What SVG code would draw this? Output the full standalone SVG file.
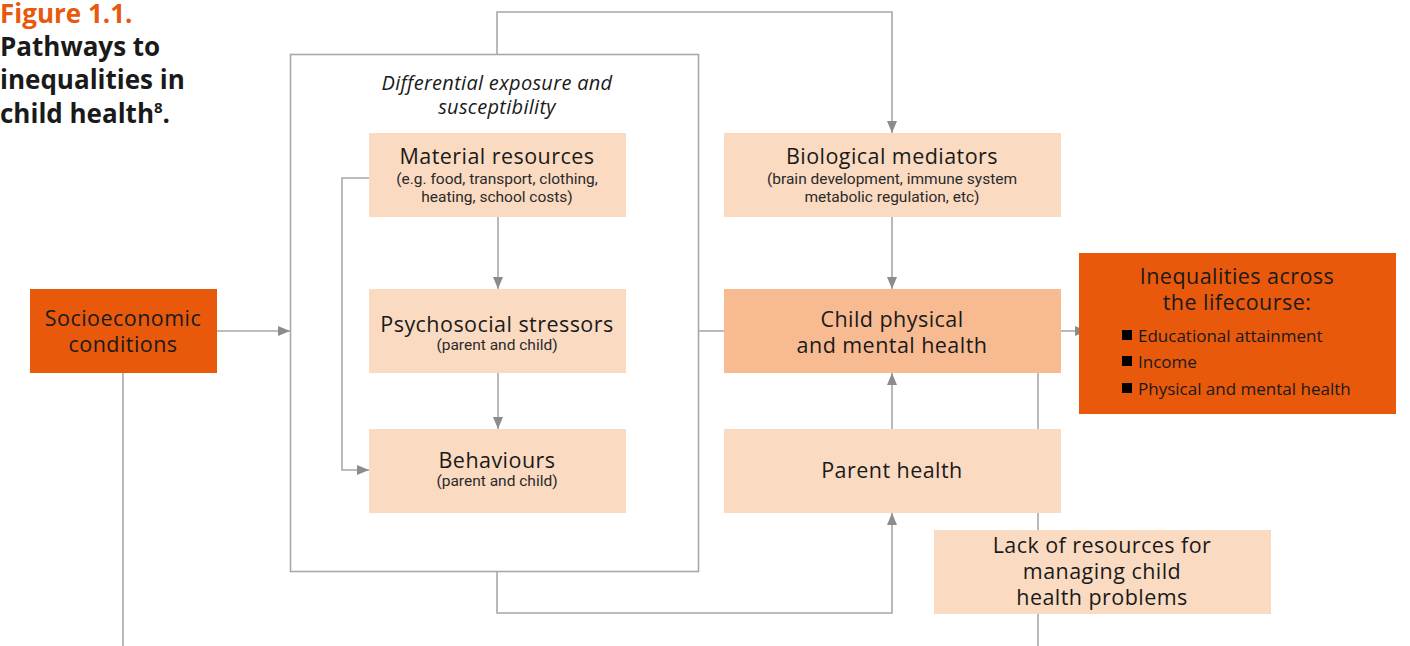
<svg xmlns="http://www.w3.org/2000/svg" width="1410" height="646" viewBox="0 0 1410 646">
<defs>
<marker id="ah" markerWidth="12" markerHeight="10" refX="12" refY="5" orient="auto" markerUnits="userSpaceOnUse">
<path d="M0,0 L12,5 L0,10 Z" fill="#8c8c8c"/>
</marker>
<style>
.ln{fill:none;stroke:#a8a8a8;stroke-width:1.6}
.lt{fill:#fbdac2}
.md{fill:#f7ba91}
.dk{fill:#e8590c}
.t{font-family:"Open Sans",Lato,sans-serif;fill:#1a1a1a;text-anchor:middle}
.big{font-size:21.5px;letter-spacing:0.45px}
.it{font-size:20px;font-style:italic;letter-spacing:0.3px}
.sm{font-family:Roboto,"Liberation Sans",sans-serif;font-size:15.5px;fill:#2a2a2a;text-anchor:middle}
.bl{font-family:"Open Sans",Lato,sans-serif;font-size:17px;fill:#1a1a1a}
.ti{font-family:"Open Sans",Lato,sans-serif;font-weight:bold;font-size:26px;fill:#1a1a1a}
</style>
</defs>
<rect width="1410" height="646" fill="#fff"/>
<g id="title">
<text class="ti" x="0" y="23" style="fill:#e8590c">Figure 1.1.</text>
<text class="ti" x="0" y="56">Pathways to</text>
<text class="ti" x="0" y="89">inequalities in</text>
<text class="ti" x="0" y="123">child health<tspan font-size="15" dy="-10">8</tspan><tspan dy="10">.</tspan></text>
</g>
<g id="connectors">
<path class="ln" d="M123,373 V646"/>
<path class="ln" d="M1038,373 V646"/>
<path class="ln" d="M217,331 H290" marker-end="url(#ah)"/>
<path class="ln" d="M497,54 V12 H892 V133" marker-end="url(#ah)"/>
<path class="ln" d="M498,217 V289" marker-end="url(#ah)"/>
<path class="ln" d="M498,373 V429" marker-end="url(#ah)"/>
<path class="ln" d="M369,178 H342 V470 H369" marker-end="url(#ah)"/>
<path class="ln" d="M699,331 H724"/>
<path class="ln" d="M892,217 V289" marker-end="url(#ah)"/>
<path class="ln" d="M892,429 V373" marker-end="url(#ah)"/>
<path class="ln" d="M1061,331 H1087" marker-end="url(#ah)"/>
<path class="ln" d="M497,572 V613 H892 V513" marker-end="url(#ah)"/>
</g>
<g id="exposure-box">
<rect x="290.5" y="54.5" width="408" height="517" fill="none" stroke="#a8a8a8" stroke-width="1.6"/>
<text class="t it" x="497" y="90">Differential exposure and</text>
<text class="t it" x="497" y="114">susceptibility</text>
</g>
<g id="material">
<rect class="lt" x="369" y="133" width="257" height="84"/>
<text class="t big" x="497" y="164">Material resources</text>
<text class="sm" x="497" y="184">(e.g. food, transport, clothing,</text>
<text class="sm" x="497" y="202">heating, school costs)</text>
</g>
<g id="psychosocial">
<rect class="lt" x="369" y="289" width="257" height="84"/>
<text class="t big" x="497" y="332">Psychosocial stressors</text>
<text class="sm" x="497" y="350">(parent and child)</text>
</g>
<g id="behaviours">
<rect class="lt" x="369" y="429" width="257" height="84"/>
<text class="t big" x="497" y="468">Behaviours</text>
<text class="sm" x="497" y="486">(parent and child)</text>
</g>
<g id="biological">
<rect class="lt" x="724" y="133" width="337" height="84"/>
<text class="t big" x="892" y="164">Biological mediators</text>
<text class="sm" x="892" y="184">(brain development, immune system</text>
<text class="sm" x="892" y="202">metabolic regulation, etc)</text>
</g>
<g id="child">
<rect class="md" x="724" y="289" width="337" height="84"/>
<text class="t big" x="892" y="327">Child physical</text>
<text class="t big" x="892" y="353">and mental health</text>
</g>
<g id="parent">
<rect class="lt" x="724" y="429" width="337" height="84"/>
<text class="t big" x="892" y="478">Parent health</text>
</g>
<g id="lack">
<rect class="lt" x="934" y="530" width="337" height="84"/>
<text class="t big" x="1102" y="553">Lack of resources for</text>
<text class="t big" x="1102" y="579">managing child</text>
<text class="t big" x="1102" y="605">health problems</text>
</g>
<g id="socioeconomic">
<rect class="dk" x="30" y="289" width="187" height="84"/>
<text class="t big" x="123" y="326">Socioeconomic</text>
<text class="t big" x="123" y="352">conditions</text>
</g>
<g id="inequalities">
<rect class="dk" x="1079" y="253" width="317" height="161"/>
<text class="t big" x="1237" y="284">Inequalities across</text>
<text class="t big" x="1237" y="310">the lifecourse:</text>
<rect x="1122" y="330" width="10" height="10" fill="#000"/>
<text class="bl" x="1138" y="342">Educational attainment</text>
<rect x="1122" y="356" width="10" height="10" fill="#000"/>
<text class="bl" x="1138" y="368">Income</text>
<rect x="1122" y="383" width="10" height="10" fill="#000"/>
<text class="bl" x="1138" y="395">Physical and mental health</text>
</g>
</svg>
